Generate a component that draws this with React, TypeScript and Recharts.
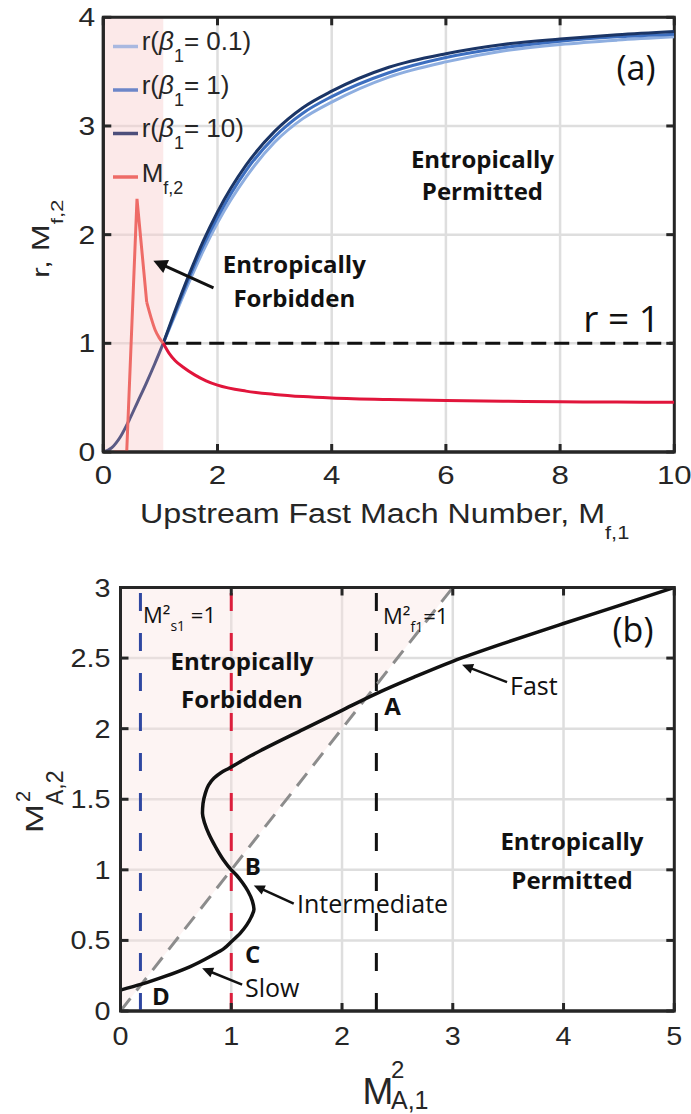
import React from "react";
import {
  ComposedChart,
  Line,
  Area,
  XAxis,
  YAxis,
  CartesianGrid,
  ReferenceArea,
  ReferenceLine,
  ReferenceDot,
} from "recharts";

// ---------- panel (a): compression ratio r and downstream fast Mach number ----------
const machLow = [0, 0.15, 0.3, 0.45, 0.6, 0.75, 0.9, 1.05];
const rLow = [0, 0.04, 0.14, 0.29, 0.46, 0.63, 0.81, 1.0];

const machHigh = [1.05, 1.25, 1.5, 1.75, 2, 2.5, 3, 3.5, 4, 5, 6, 7, 8, 9, 10];
const rBeta01 = [1.0, 1.25, 1.56, 1.85, 2.11, 2.53, 2.85, 3.07, 3.22, 3.45, 3.59, 3.69, 3.75, 3.79, 3.82];
const rBeta1 = [1.0, 1.27, 1.6, 1.9, 2.16, 2.59, 2.9, 3.12, 3.27, 3.49, 3.63, 3.72, 3.78, 3.82, 3.845];
const rBeta10 = [1.0, 1.29, 1.63, 1.94, 2.21, 2.64, 2.95, 3.17, 3.32, 3.54, 3.665, 3.75, 3.8, 3.84, 3.87];

const machRedLow = [0.19, 0.41, 0.59, 0.76];
const mf2Low = [0, 0, 2.33, 1.38];
const machRedMid = [0.76, 0.84, 0.91, 0.98, 1.05];
const mf2Mid = [1.38, 1.23, 1.12, 1.05, 1.0];
const machRedHigh = [1.05, 1.15, 1.26, 1.4, 1.6, 1.8, 2, 2.5, 3, 3.5, 4, 5, 6, 7, 8, 9, 10];
const mf2High = [1.0, 0.91, 0.84, 0.78, 0.71, 0.655, 0.615, 0.56, 0.53, 0.51, 0.497, 0.482, 0.473, 0.467, 0.462, 0.459, 0.457];

const forbiddenEdgeA = 1.05;
const xTicksA = [0, 2, 4, 6, 8, 10];
const yTicksA = [0, 1, 2, 3, 4];

const legendBetas = ["0.1", "1", "10"];
const legendSwatches = ["#a9b8e0", "#6d86c8", "#4d4f7b", "#ee6b67"];

// ---------- panel (b): shock adiabatic M²A,2 vs M²A,1 ----------
// ordered by increasing M²A,2 (the S-shaped curve is single valued in that direction)
const ma1Sq = [
  0, 0.19, 0.4, 0.63, 0.83, 0.93, 1.0, 1.08, 1.14, 1.18, 1.205, 1.19, 1.15, 1.1, 1.05, 1.0, 0.93, 0.86,
  0.8, 0.76, 0.74, 0.745, 0.765, 0.795, 0.845, 0.91, 0.98, 1.07, 1.18, 1.29, 1.65, 2.0, 2.3, 2.65, 3.0,
  3.5, 4.0, 4.5, 5.0,
];
const ma2Sq = [
  0.148, 0.19, 0.245, 0.315, 0.395, 0.44, 0.49, 0.55, 0.61, 0.665, 0.72, 0.78, 0.85, 0.91, 0.96, 1.0,
  1.07, 1.16, 1.25, 1.33, 1.4, 1.47, 1.54, 1.6, 1.65, 1.69, 1.72, 1.76, 1.81, 1.855, 1.995, 2.13, 2.245,
  2.365, 2.477, 2.615, 2.745, 2.872, 3.0,
];
const slowSonicX = 0.18;
const intermediateX = 1;
const fastSonicX = 2.31;
const diagonalEnd = 3;
const xTicksB = [0, 1, 2, 3, 4, 5];
const yTicksB = [0, 0.5, 1, 1.5, 2, 2.5, 3];

// region above M²A,2 = M²A,1 (entropically forbidden)
const forbiddenBand = [
  { x: 0, band: [0, 3] },
  { x: diagonalEnd, band: [diagonalEnd, 3] },
];

const INK = "#262626";
const NOTE = "#111111";
const TICK_FONT = "'Liberation Sans', Arial, Helvetica, sans-serif";
const NOTE_FONT = "'Open Sans', 'Noto Sans', sans-serif";
const MARK = 8; // inward tick length, px

const toPoints = (xs: number[], ys: number[]) => xs.map((x, i) => ({ x, y: ys[i] }));

const axisLineStyle = { stroke: INK, strokeWidth: 3 };

const bottomTick = (offset: number, size: number, stretch: number) => (p: any) => (
  <text
    transform={`translate(${p.x},${p.y + offset}) scale(${stretch},1)`}
    textAnchor="middle"
    fontSize={size}
    fontFamily={TICK_FONT}
    fill={INK}
  >
    {p.payload.value}
  </text>
);

const leftTick = (offset: number, size: number, stretch: number) => (p: any) => (
  <text
    transform={`translate(${p.x - offset},${p.y + size * 0.36}) scale(${stretch},1)`}
    textAnchor="end"
    fontSize={size}
    fontFamily={TICK_FONT}
    fill={INK}
  >
    {p.payload.value}
  </text>
);

// inward tick marks on all four edges of the box, in data units
function frameMarks(xTicks: number[], yTicks: number[], xMax: number, yMax: number, plotW: number, plotH: number) {
  const dx = (MARK / plotW) * xMax;
  const dy = (MARK / plotH) * yMax;
  const style = { stroke: INK, strokeWidth: 3 };
  const marks: React.ReactElement[] = [];
  xTicks.forEach((t) => {
    marks.push(<ReferenceLine key={`b${t}`} segment={[{ x: t, y: 0 }, { x: t, y: dy }]} {...style} />);
    marks.push(<ReferenceLine key={`t${t}`} segment={[{ x: t, y: yMax - dy }, { x: t, y: yMax }]} {...style} />);
  });
  yTicks.forEach((t) => {
    marks.push(<ReferenceLine key={`l${t}`} segment={[{ x: 0, y: t }, { x: dx, y: t }]} {...style} />);
    marks.push(<ReferenceLine key={`r${t}`} segment={[{ x: xMax - dx, y: t }, { x: xMax, y: t }]} {...style} />);
  });
  return marks;
}

// multi-line text placed at a data point (first baseline at the point)
const note =
  (lines: string[], size: number, opts: { bold?: boolean; anchor?: string; gap?: number } = {}) =>
  (p: any) => (
    <text
      x={p.cx}
      y={p.cy}
      fontSize={size}
      fontFamily={NOTE_FONT}
      fontWeight={opts.bold ? 700 : 400}
      textAnchor={opts.anchor || "middle"}
      fill={NOTE}
    >
      {lines.map((l, i) => (
        <tspan key={i} x={p.cx} dy={i === 0 ? 0 : opts.gap || size * 1.4}>
          {l}
        </tspan>
      ))}
    </text>
  );

// sonic-point label: M² with a small subscript, then "=1"
const sonicNote = (sub: string, tail: string) => (p: any) => (
  <text x={p.cx} y={p.cy} fontSize={22} fontFamily={NOTE_FONT} fill={NOTE}>
    M²
    <tspan fontSize={14} dy={8}>
      {sub}
    </tspan>
    <tspan dy={-8}>{tail}</tspan>
  </text>
);

const arrow = (head: number, halfW: number, width: number) => (p: any) => {
  const { x1, y1, x2, y2 } = p;
  const len = Math.hypot(x2 - x1, y2 - y1) || 1;
  const ux = (x2 - x1) / len;
  const uy = (y2 - y1) / len;
  const bx = x2 - ux * head;
  const by = y2 - uy * head;
  const pts = `${x2},${y2} ${bx - uy * halfW},${by + ux * halfW} ${bx + uy * halfW},${by - ux * halfW}`;
  return (
    <g>
      <line x1={x1} y1={y1} x2={bx + ux * 2} y2={by + uy * 2} stroke={NOTE} strokeWidth={width} />
      <polygon points={pts} fill={NOTE} />
    </g>
  );
};

const lineProps = { dot: false, activeDot: false, isAnimationActive: false, dataKey: "y", legendType: "none" as const };

function PanelA() {
  const margin = { top: 17.3, right: 16.7, bottom: 48, left: 43.3 };
  const plotH = 560 - margin.top - margin.bottom - 60;
  const plotW = 691 - margin.left - margin.right - 60;
  return (
    <ComposedChart width={691} height={560} margin={margin}>
      <CartesianGrid stroke="#dedede" strokeWidth={2.5} />
      <ReferenceArea x1={0} x2={forbiddenEdgeA} y1={0} y2={4} fill="#f8cece" fillOpacity={0.45} stroke="none" />
      <XAxis
        type="number"
        dataKey="x"
        domain={[0, 10]}
        ticks={xTicksA}
        interval={0}
        allowDataOverflow
        height={60}
        axisLine={axisLineStyle}
        tickLine={false}
        tickSize={0}
        tickMargin={0}
        tick={bottomTick(32, 26, 1.2)}
      />
      <YAxis
        type="number"
        domain={[0, 4]}
        ticks={yTicksA}
        interval={0}
        allowDataOverflow
        width={60}
        axisLine={axisLineStyle}
        tickLine={false}
        tickSize={0}
        tickMargin={0}
        tick={leftTick(8, 25, 1.2)}
      />

      <ReferenceLine
        segment={[
          { x: forbiddenEdgeA, y: 1 },
          { x: 10, y: 1 },
        ]}
        stroke="#111"
        strokeWidth={3}
        strokeDasharray="15 8"
      />

      <Line {...lineProps} data={toPoints(machLow, rLow)} type="monotone" stroke="#5b5a85" strokeWidth={3} />
      <Line {...lineProps} data={toPoints(machHigh, rBeta01)} type="monotone" stroke="#8eaee0" strokeWidth={3} />
      <Line {...lineProps} data={toPoints(machHigh, rBeta1)} type="monotone" stroke="#3d6fc0" strokeWidth={3} />
      <Line {...lineProps} data={toPoints(machHigh, rBeta10)} type="monotone" stroke="#1b3566" strokeWidth={3} />

      <Line {...lineProps} data={toPoints(machRedLow, mf2Low)} type="linear" stroke="#ee6b67" strokeWidth={3} />
      <Line {...lineProps} data={toPoints(machRedMid, mf2Mid)} type="monotone" stroke="#ee6b67" strokeWidth={3} />
      <Line {...lineProps} data={toPoints(machRedHigh, mf2High)} type="monotone" stroke="#e1153b" strokeWidth={3} />

      <ReferenceLine
        segment={[
          { x: 1.93, y: 1.51 },
          { x: 0.877, y: 1.76 },
        ]}
        shape={arrow(14, 7, 3)}
      />
      <ReferenceDot x={3.345} y={1.651} r={1} shape={note(["Entropically", "Forbidden"], 24, { bold: true, gap: 34 })} />
      <ReferenceDot x={6.64} y={2.615} r={1} shape={note(["Entropically", "Permitted"], 24, { bold: true, gap: 32 })} />
      <ReferenceDot x={9.33} y={3.42} r={1} shape={note(["(a)"], 34)} />
      <ReferenceDot x={9.75} y={1.104} r={1} shape={note(["r = 1"], 37, { anchor: "end" })} />

      {frameMarks(xTicksA, yTicksA, 10, 4, plotW, plotH)}
      {/* axes box */}
      <ReferenceArea x1={0} x2={10} y1={0} y2={4} fill="none" stroke={INK} strokeWidth={3} />
    </ComposedChart>
  );
}

function PanelB() {
  const margin = { top: 27.5, right: 16.7, bottom: 43, left: 60.5 };
  const plotH = 554 - margin.top - margin.bottom - 60;
  const plotW = 691 - margin.left - margin.right - 60;
  return (
    <ComposedChart width={691} height={554} data={forbiddenBand} margin={margin}>
      <CartesianGrid stroke="#dedede" strokeWidth={2.5} />
      <Area
        dataKey="band"
        type="linear"
        fill="#fbe2e0"
        fillOpacity={0.38}
        stroke="none"
        isAnimationActive={false}
        activeDot={false}
        legendType="none"
      />
      <XAxis
        type="number"
        dataKey="x"
        domain={[0, 5]}
        ticks={xTicksB}
        interval={0}
        allowDataOverflow
        height={60}
        axisLine={axisLineStyle}
        tickLine={false}
        tickSize={0}
        tickMargin={0}
        tick={bottomTick(34, 25, 1.15)}
      />
      <YAxis
        type="number"
        domain={[0, 3]}
        ticks={yTicksB}
        interval={0}
        allowDataOverflow
        width={60}
        axisLine={axisLineStyle}
        tickLine={false}
        tickSize={0}
        tickMargin={0}
        tick={leftTick(10, 25, 1.15)}
      />

      <ReferenceLine x={slowSonicX} stroke="#2f47a0" strokeWidth={3} strokeDasharray="18 22" />
      <ReferenceLine x={intermediateX} stroke="#dc1e3c" strokeWidth={3} strokeDasharray="18 22" />
      <ReferenceLine x={fastSonicX} stroke="#111" strokeWidth={3} strokeDasharray="18 22" />
      <ReferenceLine
        segment={[
          { x: 0, y: 0 },
          { x: diagonalEnd, y: diagonalEnd },
        ]}
        stroke="#8c8c8c"
        strokeWidth={3}
        strokeDasharray="16 10"
      />

      <Line {...lineProps} data={toPoints(ma1Sq, ma2Sq)} type="monotoneY" stroke="#111" strokeWidth={3.5} />

      <ReferenceDot x={0.203} y={2.748} r={1} shape={sonicNote("s1", " =1")} />
      <ReferenceDot x={2.37} y={2.741} r={1} shape={sonicNote("f1", "=1")} />
      <ReferenceDot x={4.627} y={2.613} r={1} shape={note(["(b)"], 34)} />
      <ReferenceDot x={1.097} y={2.419} r={1} shape={note(["Entropically", "Forbidden"], 24, { bold: true, gap: 38 })} />
      <ReferenceDot x={4.076} y={1.14} r={1} shape={note(["Entropically", "Permitted"], 24, { bold: true, gap: 39 })} />

      <ReferenceDot x={2.456} y={2.096} r={1} shape={note(["A"], 24, { bold: true })} />
      <ReferenceDot x={1.195} y={0.96} r={1} shape={note(["B"], 24, { bold: true })} />
      <ReferenceDot x={1.192} y={0.341} r={1} shape={note(["C"], 24, { bold: true })} />
      <ReferenceDot x={0.364} y={0.04} r={1} shape={note(["D"], 24, { bold: true })} />

      <ReferenceDot x={3.517} y={2.238} r={1} shape={note(["Fast"], 25, { anchor: "start" })} />
      <ReferenceDot x={1.594} y={0.692} r={1} shape={note(["Intermediate"], 25, { anchor: "start" })} />
      <ReferenceDot x={1.124} y={0.099} r={1} shape={note(["Slow"], 25, { anchor: "start" })} />

      <ReferenceLine
        segment={[
          { x: 3.49, y: 2.33 },
          { x: 3.084, y: 2.452 },
        ]}
        shape={arrow(11, 5, 2.5)}
      />
      <ReferenceLine
        segment={[
          { x: 1.564, y: 0.76 },
          { x: 1.203, y: 0.889 },
        ]}
        shape={arrow(11, 5, 2.5)}
      />
      <ReferenceLine
        segment={[
          { x: 1.098, y: 0.187 },
          { x: 0.737, y: 0.302 },
        ]}
        shape={arrow(11, 5, 2.5)}
      />

      {frameMarks(xTicksB, yTicksB, 5, 3, plotW, plotH)}
      {/* axes box */}
      <ReferenceArea x1={0} x2={5} y1={0} y2={3} fill="none" stroke={INK} strokeWidth={3} />
    </ComposedChart>
  );
}

// legend for panel (a) and the axis titles of both panels
function Overlay() {
  const rows = [50, 93.5, 137, 180.5];
  const t = { fontFamily: TICK_FONT, fill: INK };
  return (
    <svg width={691} height={1114} style={{ position: "absolute", left: 0, top: 0, pointerEvents: "none" }}>
      {rows.map((b, i) => (
        <line key={i} x1={113} x2={138} y1={b - 3.5} y2={b - 3.5} stroke={legendSwatches[i]} strokeWidth={3.5} />
      ))}
      {legendBetas.map((beta, i) => (
        <text key={beta} x={141.7} y={rows[i]} fontSize={26} {...t}>
          r(
          <tspan fontStyle="italic">β</tspan>
          <tspan fontSize={18} dy={12}>
            1
          </tspan>
          <tspan dy={-12}>= {beta})</tspan>
        </text>
      ))}
      <text x={141.7} y={rows[3] + 1.5} fontSize={26} {...t}>
        M
        <tspan fontSize={18} dy={12}>
          f,2
        </tspan>
      </text>

      {/* panel (a) titles */}
      <text transform="translate(140,523) scale(1.15,1)" fontSize={28} {...t}>
        Upstream Fast Mach Number, M
        <tspan fontSize={19} dy={16}>
          f,1
        </tspan>
      </text>
      <text transform="translate(48.5,278) rotate(-90) scale(1.4,1)" fontSize={23} {...t}>
        r, M
        <tspan fontSize={16} dy={14}>
          f,2
        </tspan>
      </text>

      {/* panel (b) titles */}
      <text x={362.5} y={1104} fontSize={37} {...t}>
        M
        <tspan x={391} dy={-26} fontSize={24}>
          2
        </tspan>
        <tspan x={391} dy={31} fontSize={25}>
          A,1
        </tspan>
      </text>
      <text transform="translate(43,833) rotate(-90)" fontSize={23} {...t}>
        <tspan textLength={29} lengthAdjust="spacingAndGlyphs">
          M
        </tspan>
        <tspan x={31} dy={-13} fontSize={20}>
          2
        </tspan>
        <tspan x={28} dy={33} fontSize={23}>
          A,2
        </tspan>
      </text>
    </svg>
  );
}

export default function App() {
  return (
    <div
      style={{
        position: "absolute",
        left: 0,
        top: 0,
        width: 691,
        height: 1114,
        background: "#fff",
        overflow: "hidden",
      }}
    >
      <div style={{ position: "absolute", left: 0, top: 0 }}>
        <PanelA />
      </div>
      <div style={{ position: "absolute", left: 0, top: 560 }}>
        <PanelB />
      </div>
      <Overlay />
    </div>
  );
}
